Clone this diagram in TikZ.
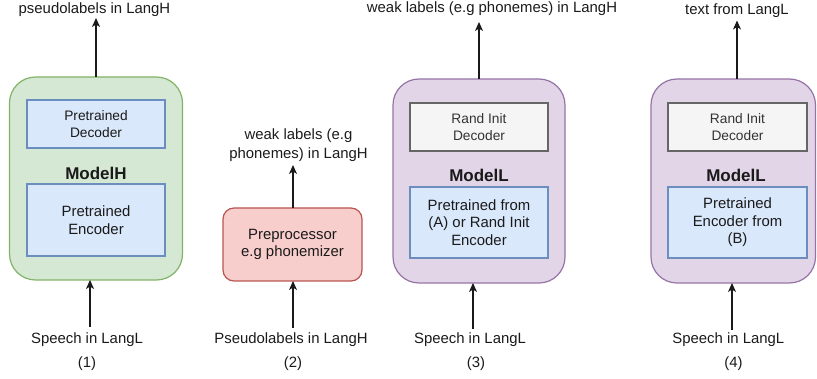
\documentclass[tikz,border=0pt]{standalone}
\usepackage{fontspec}
\setmainfont{Liberation Sans}
\usetikzlibrary{arrows.meta}
\definecolor{gfill}{HTML}{D5E8D4}
\definecolor{gline}{HTML}{82B366}
\definecolor{bfill}{HTML}{DAE8FC}
\definecolor{bline}{HTML}{6C8EBF}
\definecolor{rfill}{HTML}{F8CECC}
\definecolor{rline}{HTML}{B85450}
\definecolor{pfill}{HTML}{E1D5E7}
\definecolor{pline}{HTML}{9673A6}
\definecolor{kfill}{HTML}{F5F5F5}
\definecolor{kline}{HTML}{666666}
\definecolor{ktext}{HTML}{333333}
\definecolor{txt}{HTML}{1A1A1A}
\begin{document}
\begin{tikzpicture}[x=1pt,y=-1pt,
  every node/.style={inner sep=0pt, outer sep=0pt, text=txt},
  lbl/.style={font=\fontsize{14.9}{19}\selectfont, align=center},
  numlbl/.style={font=\fontsize{14.9}{19}\selectfont},
  outerbox/.style={draw, line width=1.2pt, rounded corners=26pt},
  greenbox/.style={outerbox, fill=gfill, draw=gline},
  purplebox/.style={outerbox, fill=pfill, draw=pline},
  redbox/.style={draw=rline, fill=rfill, line width=1.2pt, rounded corners=11pt,
    align=center, font=\fontsize{14.9}{17.3}\selectfont},
  encbox/.style={draw=bline, fill=bfill, line width=1.2pt, align=center,
    font=\fontsize{14.9}{17.5}\selectfont},
  decbox/.style={draw=bline, fill=bfill, line width=1.2pt, align=center,
    font=\fontsize{13.75}{16.5}\selectfont},
  randbox/.style={draw=kline, fill=kfill, line width=1.2pt, align=center,
    text=ktext, font=\fontsize{13.75}{16.5}\selectfont},
  modeltxt/.style={font=\fontsize{17}{20}\selectfont\bfseries},
  arr/.style={line width=1.2pt, draw=txt, -{Stealth[length=9pt,width=8pt,inset=2.5pt]}}
]
\useasboundingbox (0,0) rectangle (817,379);

% ---------- Panel 1 ----------
\node[greenbox, minimum width=173pt, minimum height=203pt] (m1) at (96,178.5) {};
\node[decbox, minimum width=138pt, minimum height=48pt] (d1) at (96,124) {Pretrained\\Decoder};
\node[encbox, minimum width=138pt, minimum height=72pt] (e1) at (96,220) {Pretrained\\Encoder};
\node[modeltxt, anchor=base] (m1t) at (96,180) {ModelH};
\node[lbl, anchor=base] (top1) at (94.5,14) {pseudolabels in LangH};
\node[lbl, anchor=base] (bot1) at (87,344) {Speech in LangL};
\node[numlbl, anchor=base] (num1) at (87,367) {(1)};
\coordinate (a1t) at (96,18);
\coordinate (a1b) at (90,327);
\draw[arr] (m1.north -| a1t) -- (a1t);
\draw[arr] (a1b) -- (a1b |- m1.south);

% ---------- Panel 2 ----------
\node[redbox, minimum width=139pt, minimum height=73pt] (p2) at (292.5,244.5) {Preprocessor\\e.g phonemizer};
\node[lbl, anchor=center] (top2) at (298.5,145.6) {weak labels (e.g\\phonemes) in LangH};
\node[lbl, anchor=base] (bot2) at (291,344) {Pseudolabels in LangH};
\node[numlbl, anchor=base] (num2) at (293,367) {(2)};
\coordinate (a2t) at (293,165);
\coordinate (a2b) at (293,328);
\draw[arr] (p2.north -| a2t) -- (a2t);
\draw[arr] (a2b) -- (a2b |- p2.south);

% ---------- Panel 3 ----------
\node[purplebox, minimum width=172pt, minimum height=204pt] (m3) at (479,181) {};
\node[randbox, minimum width=138pt, minimum height=48pt] (d3) at (479,127) {Rand Init\\Decoder};
\node[encbox, minimum width=138pt, minimum height=71pt] (e3) at (479,222.5) {Pretrained from\\(A) or Rand Init\\Encoder};
\node[modeltxt, anchor=base] (m3t) at (479,181.5) {ModelL};
\node[lbl, anchor=base] (top3) at (492,12.7) {weak labels (e.g phonemes) in LangH};
\node[lbl, anchor=base] (bot3) at (470,344) {Speech in LangL};
\node[numlbl, anchor=base] (num3) at (476,367) {(3)};
\coordinate (a3t) at (479,22);
\coordinate (a3b) at (473,329);
\draw[arr] (m3.north -| a3t) -- (a3t);
\draw[arr] (a3b) -- (a3b |- m3.south);

% ---------- Panel 4 ----------
\node[purplebox, minimum width=164.5pt, minimum height=204pt] (m4) at (733.25,181) {};
\node[randbox, minimum width=139pt, minimum height=48pt] (d4) at (737.5,127) {Rand Init\\Decoder};
\node[encbox, minimum width=139pt, minimum height=71pt] (e4) at (737.5,222.5) {Pretrained\\Encoder from\\(B)};
\node[modeltxt, anchor=base] (m4t) at (736,181.5) {ModelL};
\node[lbl, anchor=base] (top4) at (737,15) {text from LangL};
\node[lbl, anchor=base] (bot4) at (728.3,344) {Speech in LangL};
\node[numlbl, anchor=base] (num4) at (733.5,367) {(4)};
\coordinate (a4t) at (737,20.5);
\coordinate (a4b) at (732,330);
\draw[arr] (m4.north -| a4t) -- (a4t);
\draw[arr] (a4b) -- (a4b |- m4.south);
\end{tikzpicture}
\end{document}
